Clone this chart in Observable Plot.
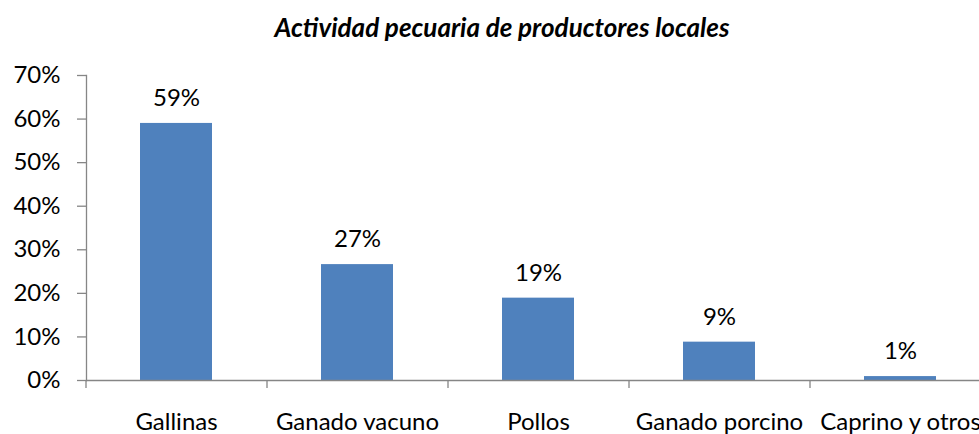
<!DOCTYPE html>
<html>
<head>
<meta charset="utf-8">
<script src="https://cdn.jsdelivr.net/npm/d3@7"></script>
<script src="https://cdn.jsdelivr.net/npm/@observablehq/plot@0.6"></script>
<style>
  html, body { margin: 0; padding: 0; background: #fff; overflow: hidden; }
  #chart svg { overflow: hidden; }
</style>
</head>
<body>
<div id="chart"></div>
<script>
const title = "Actividad pecuaria de productores locales";
const categories = ["Gallinas", "Ganado vacuno", "Pollos", "Ganado porcino", "Caprino y otros"];
const values = [0.59, 0.266, 0.189, 0.088, 0.009];
const yTicks = [0, 0.1, 0.2, 0.3, 0.4, 0.5, 0.6, 0.7];

const data = categories.map((c, i) => ({category: c, value: values[i]}));
const font = "Lato, 'Open Sans', sans-serif";
const W = 979, H = 434;
const xRange = [86, 991];
const step = (xRange[1] - xRange[0]) / categories.length;

const chart = Plot.plot({
  width: W,
  height: H,
  marginTop: 75,
  marginBottom: 54,
  marginLeft: 86,
  marginRight: 0,
  style: {fontFamily: font, fontSize: "24px", color: "#000", background: "#fff"},
  x: {domain: categories, range: xRange, paddingInner: 0.6, paddingOuter: 0.3, align: 0.5},
  y: {domain: [0, 0.7], ticks: yTicks},
  marks: [
    Plot.text([title], {
      frameAnchor: "top", dx: -31, dy: -57, text: d => d,
      fontSize: 26, fontWeight: "bold", fontStyle: "italic", fill: "#000"
    }),
    Plot.barY(data, {x: "category", y: "value", fill: "#4F81BD"}),
    Plot.text(data, {
      x: "category", y: "value", text: d => d3.format(".0%")(d.value),
      dy: -25, fontSize: 24, fill: "#000"
    }),
    Plot.ruleY([0], {stroke: "#868686", strokeWidth: 1.3}),
    Plot.frame({anchor: "left", stroke: "#868686", strokeWidth: 1.3}),
    Plot.ruleX(categories, {
      x: d => d, dx: -step / 2, y1: 0, y2: 0, insetBottom: -8,
      stroke: "#868686", strokeWidth: 1.3
    }),
    Plot.axisY({
      ticks: yTicks, tickFormat: d3.format(".0%"), tickSize: 9, tickPadding: 17,
      stroke: "#868686", strokeWidth: 1.3, fontSize: 24, fill: "#000", label: null
    }),
    Plot.axisX({
      tickSize: 0, tickPadding: 32, fontSize: 24, fill: "#000", label: null
    })
  ]
});
document.getElementById("chart").appendChild(chart);
</script>
</body>
</html>
